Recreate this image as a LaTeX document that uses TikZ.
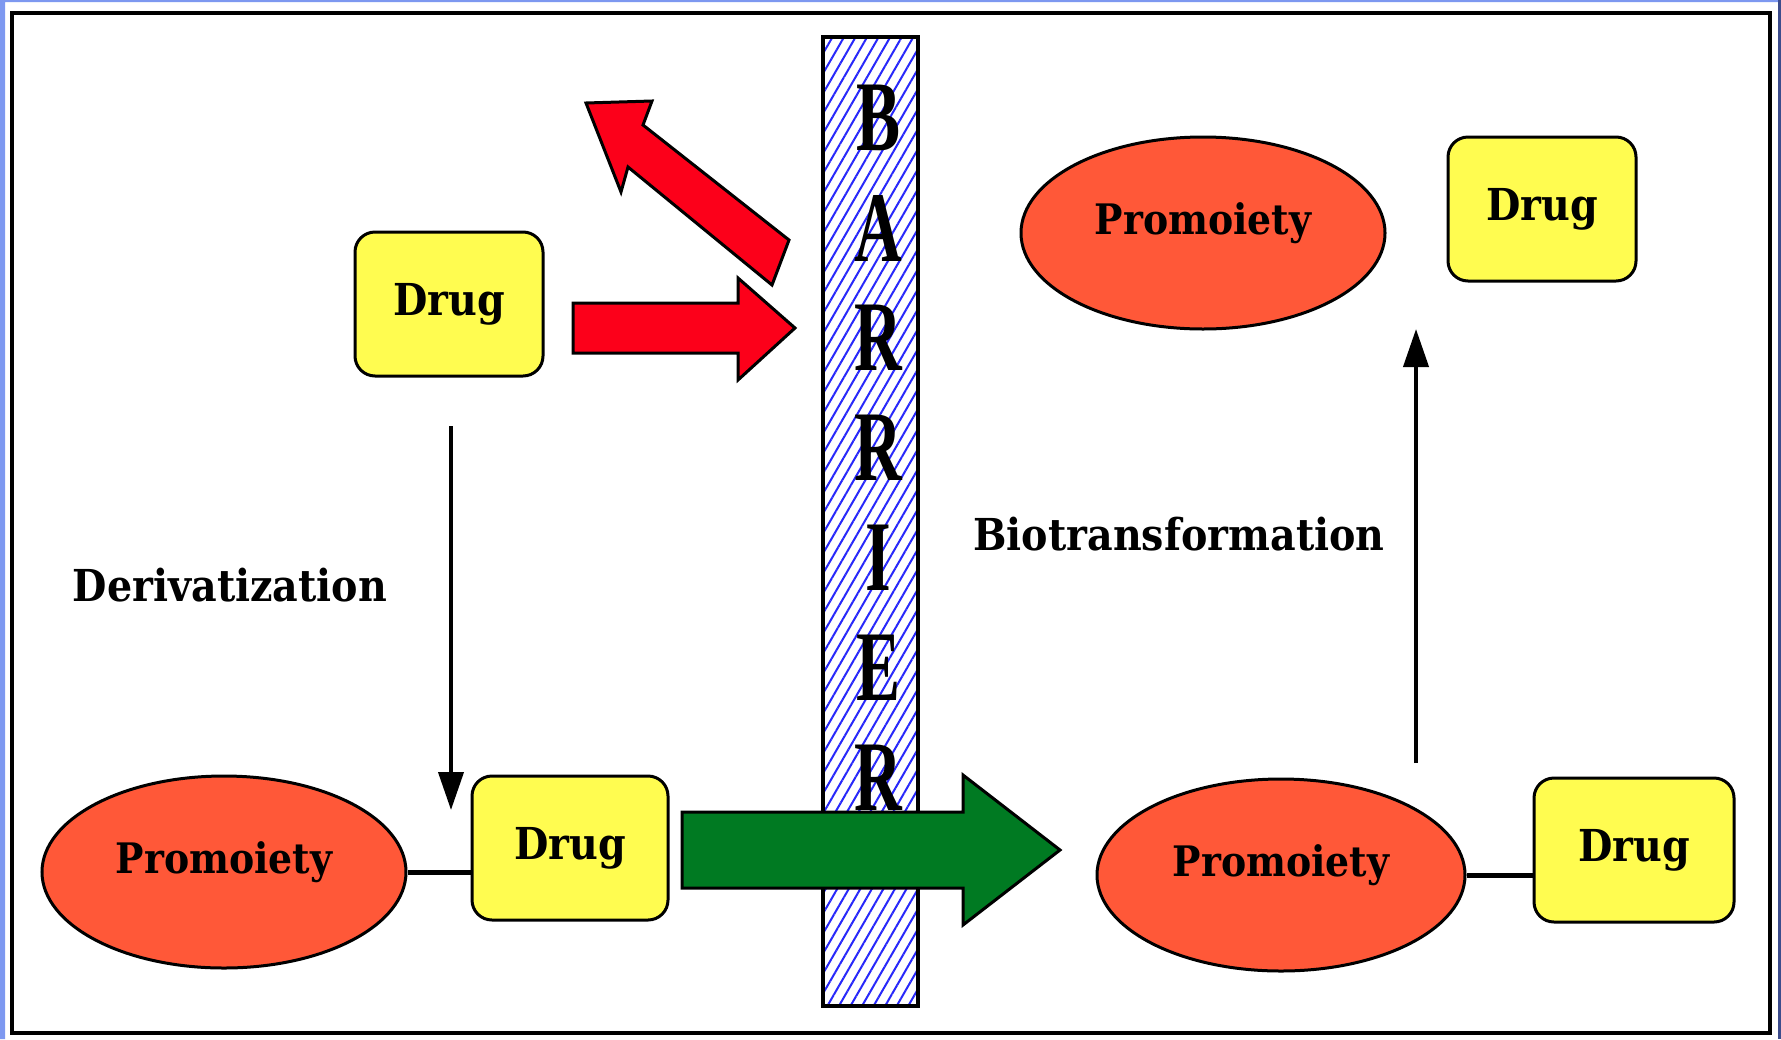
\documentclass[tikz,border=0pt]{standalone}
\usepackage{fontspec}
\setmainfont{DejaVu Serif Condensed}
\newfontfamily\barrierfont{Liberation Serif}
\usetikzlibrary{shapes.geometric,patterns.meta,arrows.meta}

\definecolor{drugyellow}{RGB}{255,252,80}
\definecolor{moietyred}{RGB}{255,88,56}
\definecolor{blockred}{RGB}{252,0,26}
\definecolor{blockgreen}{RGB}{0,122,34}
\definecolor{stripeblue}{RGB}{40,40,250}
\definecolor{edgeblue}{RGB}{125,152,240}
\definecolor{edgenavy}{RGB}{60,76,140}

\newcommand{\barletter}[1]{\scalebox{0.66}[1]{#1}}

\tikzset{
  drugbox/.style={draw,line width=1.5pt,fill=drugyellow,rounded corners=10pt,
    minimum height=72pt,font=\fontsize{22}{26}\selectfont\bfseries},
  moiety/.style={ellipse,draw,line width=1.5pt,fill=moietyred,
    minimum width=182pt,minimum height=96pt,inner sep=0pt,
    text height=16pt,text depth=15pt,
    font=\fontsize{21}{26}\selectfont\bfseries},
  steptext/.style={font=\fontsize{22}{26}\selectfont\bfseries},
  letterbar/.style={font=\barrierfont\fontsize{50}{52}\selectfont\bfseries},
  blockarrow/.style={draw,line width=1.5pt,line join=miter},
  thinarrow/.style={line width=2pt,-{Triangle[length=19pt,width=12.5pt]}},
  bond/.style={line width=2.5pt}
}

\begin{document}
\begin{tikzpicture}[x=0.5pt,y=-0.5pt]
  \useasboundingbox (0,0) rectangle (1781,1039);
  \fill[white] (0,0) rectangle (1781,1039);
  \fill[edgeblue] (0,0) rectangle (5,1039) (0,0) rectangle (1781,2);
  \fill[edgenavy] (1778,0) rectangle (1781,1039);
  \draw[line width=1.6pt] (12,13) rectangle (1770,1033);

  % barrier
  \draw[line width=1.6pt,pattern={Lines[angle=60,distance=5pt,line width=1pt]},
    pattern color=stripeblue] (823,37) rectangle (918,1006);
  \draw
    (878,118) node[letterbar] (b1){\barletter{B}}
    (878,228) node[letterbar] (b2){\barletter{A}}
    (878,338) node[letterbar] (b3){\barletter{R}}
    (878,448) node[letterbar] (b4){\barletter{R}}
    (878,558) node[letterbar] (b5){\barletter{I}}
    (878,668) node[letterbar] (b6){\barletter{E}}
    (878,778) node[letterbar] (b7){\barletter{R}};

  % drug alone, blocked by the barrier
  \node[drugbox,minimum width=94pt] (drugA) at (449,304) {Drug};
  \draw[blockarrow,fill=blockred] (573,303) -- (738,303) -- (738,278) -- (795,328)
    -- (738,380) -- (738,353) -- (573,353) -- cycle;
  \draw[blockarrow,fill=blockred] (772,285) -- (628,167) -- (621,192) -- (586,103)
    -- (652,101) -- (643,125) -- (789,240) -- cycle;

  % prodrug
  \node[moiety] (moietyB) at (224,872) {Promoiety};
  \node[drugbox,minimum width=98pt] (drugB) at (570,848) {Drug};
  \draw[bond] (moietyB.east) -- (moietyB.east -| drugB.west);
  \coordinate (derivtop) at (451,426);
  \coordinate (derivend) at (451,810);
  \draw[thinarrow] (derivtop) -- (derivend);
  \node[steptext] (deriv) at (230,585) {Derivatization};

  \draw[blockarrow,fill=blockgreen] (682,812) -- (963,812) -- (963,775) -- (1060,850)
    -- (963,925) -- (963,888) -- (682,888) -- cycle;

  % after the barrier
  \node[moiety,minimum width=184pt] (moietyC) at (1281,875) {Promoiety};
  \node[drugbox,minimum width=100pt] (drugC) at (1634,850) {Drug};
  \draw[bond] (moietyC.east) -- (moietyC.east -| drugC.west);
  \coordinate (biobase) at (1416,763);
  \coordinate (biotop) at (1416,329);
  \draw[thinarrow] (biobase) -- (biotop);
  \node[steptext] (bio) at (1179,534) {Biotransformation};

  \node[moiety] (moietyD) at (1203,233) {Promoiety};
  \node[drugbox,minimum width=94pt] (drugD) at (1542,209) {Drug};
\end{tikzpicture}
\end{document}
